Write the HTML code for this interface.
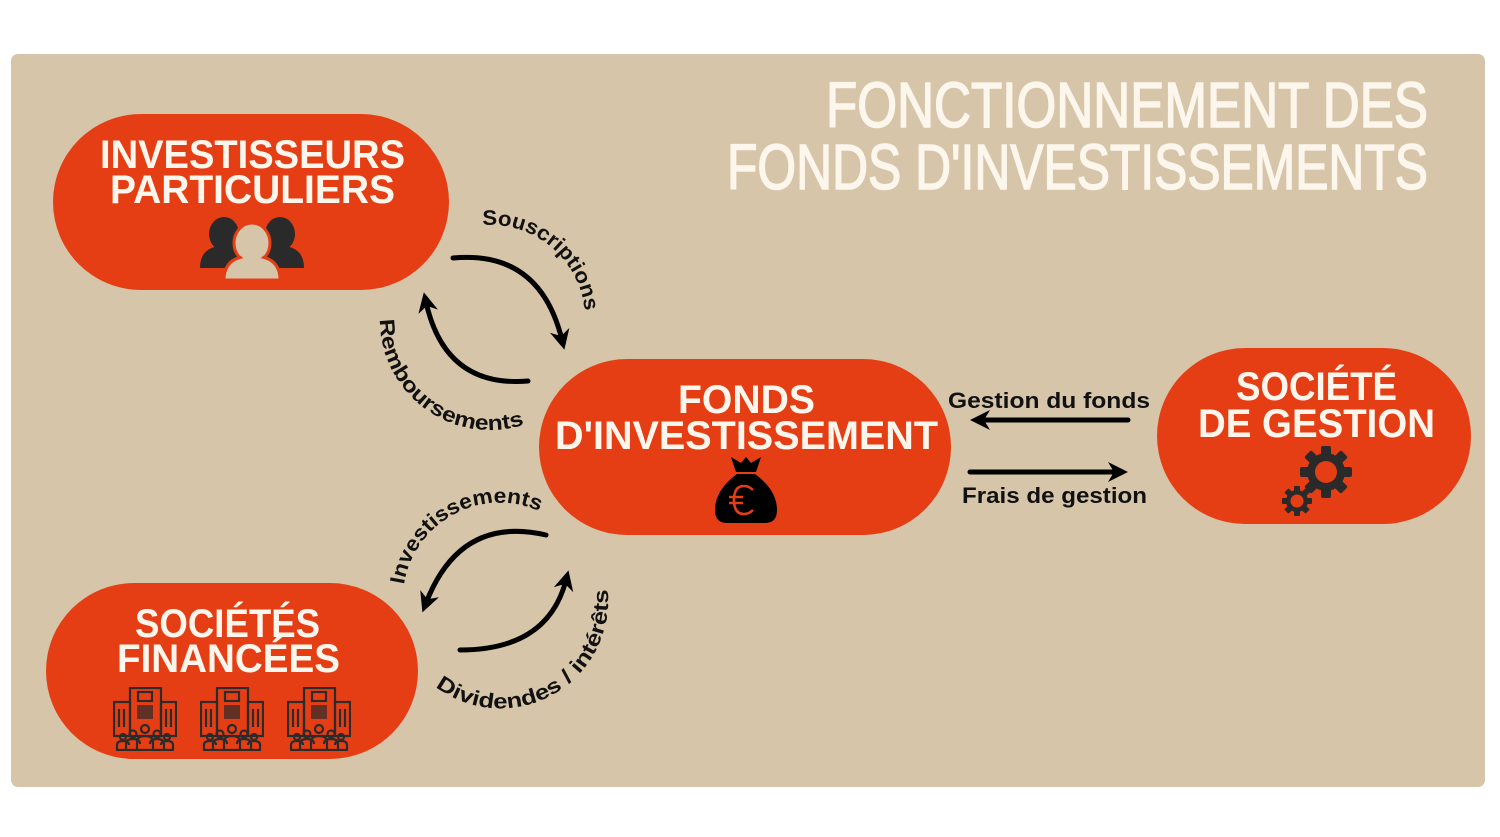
<!DOCTYPE html>
<html><head><meta charset="utf-8"><style>
html,body{margin:0;padding:0;background:#fff;width:1500px;height:837px;overflow:hidden}
svg{display:block}
.w{font-family:"Liberation Sans",sans-serif;font-weight:bold;fill:#fdf6ec}
.b{font-family:"Liberation Sans",sans-serif;font-weight:bold;fill:#111}
</style></head><body>
<svg width="1500" height="837" viewBox="0 0 1500 837" xmlns="http://www.w3.org/2000/svg">
<defs>
<marker id="ah" viewBox="0 0 10 10" refX="5" refY="5" markerWidth="4" markerHeight="4" orient="auto">
<path d="M0,0 L10,5 L0,10 L3,5 z" fill="#000"/></marker>
<path id="p1" d="M428.9 247.2 A95 95 0 0 1 572.3 367.5"/>
<path id="p2" d="M391.1 271.8 A110 110 0 0 0 566.4 399.1"/>
<path id="p3" d="M408.8 633.2 A97 97 0 0 1 577.5 541.6"/>
<path id="p4" d="M411.5 662.0 A108 108 0 0 0 598.7 556.1"/>
<symbol id="bld" viewBox="0 0 64 64">
<g fill="none" stroke="#2b2b2b" stroke-width="2.2">
<rect x="17" y="1" width="31" height="48"/>
<rect x="25" y="5" width="14" height="9"/>
<rect x="1" y="15" width="16" height="34"/>
<rect x="48" y="15" width="15" height="34"/>
<path d="M6 22v18M11 22v18M53 22v18M58 22v18"/>
<circle cx="32" cy="42" r="4"/><circle cx="20" cy="47" r="3.5"/><circle cx="44" cy="47" r="3.5"/><circle cx="10" cy="50" r="3"/><circle cx="54" cy="50" r="3"/>
<path d="M24 63v-8q0-6 8-6t8 6v8M13 63v-6q0-5 7-5t7 5M37 57q0-5 7-5t7 5v6M4 63v-5q0-4 6-4t6 4M48 58q0-4 6-4t6 4v5M3 63h58"/>
</g>
<g fill="#2b2b2b"><rect x="24" y="18" width="16" height="14" opacity=".7"/></g>
</symbol>
</defs>
<rect x="11" y="54" width="1474" height="733" rx="7" fill="#d6c5a9"/>

<text class="w" x="1428" y="127" text-anchor="end" font-size="64" textLength="602" lengthAdjust="spacingAndGlyphs" style="font-weight:normal" stroke="#fdf6ec" stroke-width="1.6">FONCTIONNEMENT DES</text>
<text class="w" x="1428" y="189" text-anchor="end" font-size="64" textLength="701" lengthAdjust="spacingAndGlyphs" style="font-weight:normal" stroke="#fdf6ec" stroke-width="1.6">FONDS D'INVESTISSEMENTS</text>

<rect x="53" y="114" width="396" height="176" rx="88" fill="#e53e14"/>
<rect x="539" y="359" width="412" height="176" rx="88" fill="#e53e14"/>
<rect x="1157" y="348" width="314" height="176" rx="88" fill="#e53e14"/>
<rect x="46" y="583" width="372" height="176" rx="88" fill="#e53e14"/>

<text class="w" x="100" y="168" font-size="40" textLength="305" lengthAdjust="spacingAndGlyphs">INVESTISSEURS</text>
<text class="w" x="110" y="203" font-size="40" textLength="285" lengthAdjust="spacingAndGlyphs">PARTICULIERS</text>
<text class="w" x="678" y="413" font-size="40" textLength="137" lengthAdjust="spacingAndGlyphs">FONDS</text>
<text class="w" x="555" y="449" font-size="40" textLength="383" lengthAdjust="spacingAndGlyphs">D'INVESTISSEMENT</text>
<text class="w" x="1236" y="400" font-size="40" textLength="161" lengthAdjust="spacingAndGlyphs">SOCIÉTÉ</text>
<text class="w" x="1198" y="437" font-size="40" textLength="237" lengthAdjust="spacingAndGlyphs">DE GESTION</text>
<text class="w" x="135" y="637" font-size="40" textLength="185" lengthAdjust="spacingAndGlyphs">SOCIÉTÉS</text>
<text class="w" x="117" y="672" font-size="40" textLength="223" lengthAdjust="spacingAndGlyphs">FINANCÉES</text>

<g fill="#2a2a2a">
<ellipse cx="224" cy="234" rx="15" ry="17"/><path d="M200 268q0-22 24-22t24 22z"/>
<ellipse cx="280" cy="234" rx="15" ry="17"/><path d="M256 268q0-22 24-22t24 22z"/>
</g>
<g fill="#d6c5a9">
<ellipse cx="252" cy="243" rx="18" ry="20" stroke="#e53e14" stroke-width="3"/>
<path d="M224 280q0-24 28-24t28 24z" stroke="#e53e14" stroke-width="3"/>
<ellipse cx="252" cy="243" rx="16" ry="18"/>
</g>

<g fill="#000">
<path d="M731 457 L741 463 L746 457 L751 463 L761 457 L756 472 L736 472 Z"/>
<path d="M737 474 h18 q22 16 22 36 q0 13 -12 13 h-38 q-12 0 -12 -13 q0 -20 22 -36z"/>
</g>
<g fill="none" stroke="#e53e14" stroke-width="2.6">
<path d="M753 490 q-4 -4 -9 -4 q-10 0 -10 14 q0 14 10 14 q5 0 9 -4"/>
<path d="M729 497 h14 M729 503 h14"/>
</g>

<g fill="#2a2a2a">
<g transform="translate(1326,472)">
<circle r="19"/>
<rect x="-5" y="-26" width="10" height="10" rx="2"/><rect x="-5" y="16" width="10" height="10" rx="2"/><rect x="-26" y="-5" width="10" height="10" rx="2"/><rect x="16" y="-5" width="10" height="10" rx="2"/>
<g transform="rotate(45)"><rect x="-5" y="-26" width="10" height="10" rx="2"/><rect x="-5" y="16" width="10" height="10" rx="2"/><rect x="-26" y="-5" width="10" height="10" rx="2"/><rect x="16" y="-5" width="10" height="10" rx="2"/></g>
</g>
<g transform="translate(1297,501)">
<circle r="11"/>
<rect x="-3" y="-15" width="6" height="6" rx="1"/><rect x="-3" y="9" width="6" height="6" rx="1"/><rect x="-15" y="-3" width="6" height="6" rx="1"/><rect x="9" y="-3" width="6" height="6" rx="1"/>
<g transform="rotate(45)"><rect x="-3" y="-15" width="6" height="6" rx="1"/><rect x="-3" y="9" width="6" height="6" rx="1"/><rect x="-15" y="-3" width="6" height="6" rx="1"/><rect x="9" y="-3" width="6" height="6" rx="1"/></g>
</g>
</g>
<circle cx="1326" cy="472" r="11" fill="#e53e14"/>
<circle cx="1297" cy="501" r="6.5" fill="#e53e14"/>

<use href="#bld" x="113" y="687" width="64" height="64"/>
<use href="#bld" x="200" y="687" width="64" height="64"/>
<use href="#bld" x="287" y="687" width="64" height="64"/>

<g fill="none" stroke="#000" stroke-width="5" stroke-linecap="round">
<path d="M453 258 Q540 250 562 340" marker-end="url(#ah)"/>
<path d="M528 381 Q445 388 426 302" marker-end="url(#ah)"/>
<path d="M546 535 Q460 515 426 603" marker-end="url(#ah)"/>
<path d="M460 650 Q548 650 566 580" marker-end="url(#ah)"/>
<path d="M1128 420 H980" marker-end="url(#ah)"/>
<path d="M970 472 H1118" marker-end="url(#ah)"/>
</g>

<text class="b" font-size="21"><textPath href="#p1" startOffset="50%" text-anchor="middle" textLength="148" lengthAdjust="spacingAndGlyphs">Souscriptions</textPath></text>
<text class="b" font-size="21"><textPath href="#p2" startOffset="50%" text-anchor="middle" textLength="208" lengthAdjust="spacingAndGlyphs">Remboursements</textPath></text>
<text class="b" font-size="21"><textPath href="#p3" startOffset="50%" text-anchor="middle" textLength="178" lengthAdjust="spacingAndGlyphs">Investissements</textPath></text>
<text class="b" font-size="21"><textPath href="#p4" startOffset="50%" text-anchor="middle" textLength="250" lengthAdjust="spacingAndGlyphs">Dividendes / intérêts</textPath></text>

<text class="b" x="948" y="408" font-size="22" textLength="202" lengthAdjust="spacingAndGlyphs">Gestion du fonds</text>
<text class="b" x="962" y="503" font-size="22" textLength="185" lengthAdjust="spacingAndGlyphs">Frais de gestion</text>
</svg>
</body></html>
